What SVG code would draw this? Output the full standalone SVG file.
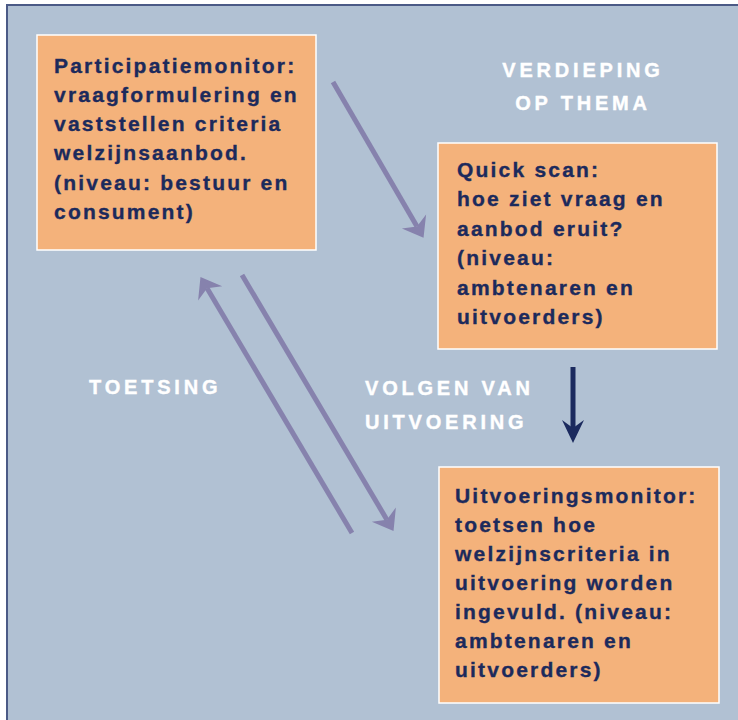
<svg xmlns="http://www.w3.org/2000/svg" width="738" height="720" viewBox="0 0 738 720">
  <style>
    .box { fill: #f4b27b; stroke: #ffffff; stroke-width: 1.5; }
    .bt { font-family: "Liberation Sans", Arial, sans-serif; font-weight: bold; font-size: 21px; letter-spacing: 2.2px; fill: #1c2a5c; stroke: #1c2a5c; stroke-width: 0.35; }
    .lbl { font-family: "Liberation Sans", Arial, sans-serif; font-weight: bold; font-size: 20px; letter-spacing: 3.8px; fill: #ffffff; stroke: #ffffff; stroke-width: 0.4; }
    .pa { stroke: #8682ad; stroke-width: 5; fill: none; }
    .da { stroke: #1b2a5e; stroke-width: 5; fill: none; }
  </style>
  <defs>
    <marker id="hp" markerUnits="userSpaceOnUse" markerWidth="40" markerHeight="40" viewBox="-20 -20 40 40" refX="0" refY="0" orient="auto">
      <path d="M13,0 L-6,-14 L0,0 L-6,14 Z" fill="#8682ad"/>
    </marker>
    <marker id="hd" markerUnits="userSpaceOnUse" markerWidth="40" markerHeight="40" viewBox="-20 -20 40 40" refX="0" refY="0" orient="auto">
      <path d="M14,0 L-9,-11 L-1,0 L-9,11 Z" fill="#1b2a5e"/>
    </marker>
  </defs>
  <rect x="0" y="0" width="738" height="720" fill="#ffffff"/>
  <rect x="7" y="5" width="740" height="730" fill="#b1c1d3" stroke="#4b5a86" stroke-width="2"/>

  <g id="connectors">
    <line class="pa" x1="333" y1="82" x2="417" y2="226.6" marker-end="url(#hp)"/>
    <line class="pa" x1="352" y1="533" x2="207.1" y2="288.3" marker-end="url(#hp)"/>
    <line class="pa" x1="242" y1="275" x2="386.9" y2="519.7" marker-end="url(#hp)"/>
    <line class="da" x1="573" y1="367" x2="573" y2="429" marker-end="url(#hd)"/>
  </g>

  <g id="labels">
    <text class="lbl" x="583" y="76.7" text-anchor="middle">VERDIEPING</text>
    <text class="lbl" x="583" y="110" text-anchor="middle">OP THEMA</text>
    <text class="lbl" x="89" y="394.3">TOETSING</text>
    <text class="lbl" x="365" y="395">VOLGEN VAN</text>
    <text class="lbl" x="365" y="429">UITVOERING</text>
  </g>

  <g id="participatiemonitor">
    <rect class="box" x="37" y="35" width="279" height="215"/>
    <text class="bt" x="54" y="72.5">Participatiemonitor:</text>
    <text class="bt" x="54" y="101.8">vraagformulering en</text>
    <text class="bt" x="54" y="131.1">vaststellen criteria</text>
    <text class="bt" x="54" y="160.4">welzijnsaanbod.</text>
    <text class="bt" x="54" y="189.7">(niveau: bestuur en</text>
    <text class="bt" x="54" y="219">consument)</text>
  </g>

  <g id="quickscan">
    <rect class="box" x="438" y="143" width="279" height="206"/>
    <text class="bt" x="457" y="176.7">Quick scan:</text>
    <text class="bt" x="457" y="206.2">hoe ziet vraag en</text>
    <text class="bt" x="457" y="235.7">aanbod eruit?</text>
    <text class="bt" x="457" y="265.2">(niveau:</text>
    <text class="bt" x="457" y="294.7">ambtenaren en</text>
    <text class="bt" x="457" y="324.2">uitvoerders)</text>
  </g>

  <g id="uitvoeringsmonitor">
    <rect class="box" x="439" y="467" width="280" height="236"/>
    <text class="bt" x="455" y="503">Uitvoeringsmonitor:</text>
    <text class="bt" x="455" y="532">toetsen hoe</text>
    <text class="bt" x="455" y="561">welzijnscriteria in</text>
    <text class="bt" x="455" y="590">uitvoering worden</text>
    <text class="bt" x="455" y="619">ingevuld. (niveau:</text>
    <text class="bt" x="455" y="648">ambtenaren en</text>
    <text class="bt" x="455" y="677">uitvoerders)</text>
  </g>
</svg>
